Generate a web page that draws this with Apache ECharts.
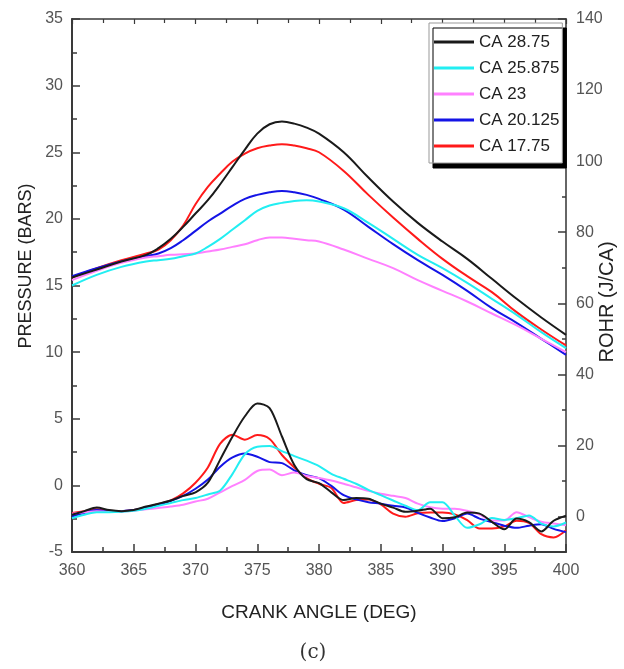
<!DOCTYPE html>
<html>
<head>
<meta charset="utf-8">
<script src="https://cdn.jsdelivr.net/npm/echarts@6/dist/echarts.min.js"></script>
<style>html,body{margin:0;padding:0;background:#fff}#c{width:624px;height:669px}</style>
</head>
<body>
<div id="c"></div>
<script>
// ---- data ----
const seriesNames = ['CA 28.75', 'CA 25.875', 'CA 23', 'CA 20.125', 'CA 17.75'];
const seriesColors = ['#1a1a1a', '#22eef2', '#ff80ff', '#1414e6', '#ff1a1a'];

const pressureAngles = [360,362,364,366,367,368,369,370,371,372,373,374,375,376,377,378,379,380,382,384,386,388,390,392,394,396,398,400];
const pressure_28_75  = [15.6,16.2,16.8,17.3,17.8,18.5,19.4,20.4,21.4,22.6,23.9,25.2,26.4,27.1,27.3,27.15,26.85,26.4,25.0,23.1,21.3,19.7,18.3,17.0,15.5,14.0,12.6,11.3];
const pressure_25_875 = [15.0,15.8,16.4,16.8,16.9,17.0,17.2,17.4,17.9,18.5,19.2,19.9,20.6,21.0,21.2,21.35,21.4,21.3,20.8,19.7,18.5,17.3,16.3,15.2,14.0,12.8,11.5,10.3];
const pressure_23     = [15.4,16.1,16.7,17.1,17.2,17.3,17.35,17.4,17.55,17.7,17.9,18.1,18.4,18.6,18.6,18.5,18.4,18.3,17.7,17.0,16.3,15.4,14.6,13.8,12.9,12.0,11.0,10.0];
const pressure_20_125 = [15.7,16.3,16.8,17.2,17.4,17.8,18.4,19.1,19.8,20.4,21.0,21.5,21.8,22.0,22.1,22.0,21.8,21.5,20.7,19.4,18.1,16.9,15.8,14.6,13.3,12.2,11.0,9.8];
const pressure_17_75  = [15.6,16.3,16.9,17.4,17.7,18.4,19.5,21.1,22.4,23.4,24.3,24.9,25.3,25.5,25.6,25.5,25.3,25.0,23.6,21.8,20.1,18.5,17.0,15.7,14.5,13.0,11.7,10.5];

const rohrAngles = [360,361,362,363,364,365,366,367,368,369,370,371,372,373,374,375,376,377,378,379,380,381,382,383,384,385,386,387,388,389,390,391,392,393,394,395,396,397,398,399,400];
const rohr_28_75  = [0.5,1.5,2.5,1.8,1.5,1.8,2.8,3.6,4.5,5.8,6.8,9.5,16.0,22.5,28.2,31.8,30.5,22.5,14.5,10.5,9.4,6.8,4.6,5.2,5.0,3.6,2.5,1.3,1.6,2.2,-0.5,-0.2,1.1,0.8,-1.5,-3.6,-0.6,-1.6,-4.2,-1.2,0.2];
const rohr_25_875 = [-0.5,0.5,1.2,1.2,1.3,1.6,2.2,3.0,3.8,4.6,5.2,6.2,7.3,12.0,17.5,19.6,19.8,18.4,17.0,15.7,14.2,12.0,10.6,9.2,7.5,6.0,4.5,3.0,1.8,4.0,4.0,0.2,-3.2,-2.2,-0.4,-1.0,-0.5,0.3,-2.0,-2.8,-1.7];
const rohr_23     = [0.8,1.2,1.5,1.3,1.4,1.6,2.0,2.4,2.8,3.3,4.2,5.0,6.8,8.6,10.3,12.8,13.2,11.6,12.4,11.4,10.8,10.1,9.2,8.2,7.2,6.4,5.8,5.2,3.6,2.6,2.2,2.2,1.6,0.5,-1.1,-1.1,1.2,-0.2,-1.5,-2.0,-2.5];
const rohr_20_125 = [0.0,1.0,1.8,1.4,1.5,1.8,2.5,3.3,4.4,5.8,7.8,10.4,14.0,16.6,17.7,16.8,15.3,15.0,13.0,11.6,10.8,8.6,6.0,4.8,4.0,3.6,3.0,2.5,1.0,-0.3,-1.3,-0.5,0.8,-0.6,-1.6,-2.6,-3.2,-2.6,-2.2,-3.5,-4.4];
const rohr_17_75  = [1.0,1.5,2.0,1.6,1.5,1.8,2.6,3.5,4.5,6.5,9.5,13.8,20.5,23.0,21.6,22.9,21.8,17.3,13.8,10.8,9.2,8.0,3.8,4.6,4.8,3.4,0.8,-0.1,0.9,1.1,1.1,0.6,-1.0,-3.4,-3.4,-2.8,-1.2,-1.8,-5.0,-5.9,-3.9];

const pressureSets = [pressure_28_75, pressure_25_875, pressure_23, pressure_20_125, pressure_17_75];
const rohrSets = [rohr_28_75, rohr_25_875, rohr_23, rohr_20_125, rohr_17_75];

const xTicks = [360, 400, 5];
const leftTicks = [-5, 35, 5];
const rightRange = [-10, 140];
const rightLabels = [0, 20, 40, 60, 80, 100, 120, 140];
const rightMinor = [10, 30, 50, 70, 90, 110, 130];

// ---- chart ----
const FONT = '"Liberation Sans", Arial, sans-serif';
const axisCol = '#3a3a3a';
const chart = echarts.init(document.getElementById('c'), null, {renderer: 'canvas'});

const series = [];
seriesNames.forEach((n, i) => {
  series.push({
    name: n, type: 'line', xAxisIndex: 0, yAxisIndex: 0,
    data: pressureAngles.map((a, k) => [a, pressureSets[i][k]]),
    smooth: 0.4, symbol: 'none', lineStyle: {width: 2, color: seriesColors[i]}, itemStyle: {color: seriesColors[i]},
    z: 10 - i
  });
  series.push({
    name: n, type: 'line', xAxisIndex: 0, yAxisIndex: 1,
    data: rohrAngles.map((a, k) => [a, rohrSets[i][k]]),
    smooth: 0.3, symbol: 'none', lineStyle: {width: 2, color: seriesColors[i]}, itemStyle: {color: seriesColors[i]},
    z: 10 - i
  });
});

const labelStyle = {fontFamily: FONT, fontSize: 16, color: '#555'};

chart.setOption({
  animation: false,
  backgroundColor: '#fff',
  grid: {left: 72, right: 58, top: 19, bottom: 117, containLabel: false},
  legend: {
    data: seriesNames, orient: 'vertical', left: 429, top: 23,
    icon: 'rect', itemWidth: 40, itemHeight: 3, itemGap: 4,
    padding: [8, 3, 6, 5],
    backgroundColor: '#fff', borderColor: '#999', borderWidth: 1,
    shadowColor: '#000', shadowBlur: 0, shadowOffsetX: 4, shadowOffsetY: 5,
    textStyle: {fontFamily: FONT, fontSize: 17, lineHeight: 22, color: '#222'}
  },
  xAxis: [
    {type: 'value', min: xTicks[0], max: xTicks[1], interval: xTicks[2], position: 'bottom',
     axisLine: {show: true, onZero: false, lineStyle: {color: axisCol, width: 2}},
     axisTick: {inside: true, length: 8, lineStyle: {color: axisCol, width: 1.5}},
     minorTick: {show: true, splitNumber: 2, length: 5, lineStyle: {color: axisCol, width: 1.5}},
     axisLabel: Object.assign({margin: 11}, labelStyle),
     splitLine: {show: false},
     name: 'CRANK ANGLE (DEG)', nameLocation: 'middle', nameGap: 51,
     nameTextStyle: {fontFamily: FONT, fontSize: 19, color: '#222'}},
    {type: 'value', min: xTicks[0], max: xTicks[1], interval: xTicks[2], position: 'top',
     axisLine: {show: true, onZero: false, lineStyle: {color: axisCol, width: 1.5}},
     axisTick: {inside: true, length: 5, lineStyle: {color: axisCol, width: 1.2}},
     minorTick: {show: true, splitNumber: 2, length: 4, lineStyle: {color: axisCol, width: 1.2}},
     axisLabel: {show: false}, splitLine: {show: false}}
  ],
  yAxis: [
    {type: 'value', min: leftTicks[0], max: leftTicks[1], interval: leftTicks[2], position: 'left',
     axisLine: {show: true, onZero: false, lineStyle: {color: axisCol, width: 2}},
     axisTick: {inside: true, length: 8, lineStyle: {color: axisCol, width: 1.5}},
     minorTick: {show: true, splitNumber: 2, length: 5, lineStyle: {color: axisCol, width: 1.5}},
     axisLabel: Object.assign({margin: 9}, labelStyle),
     splitLine: {show: false}},
    {type: 'value', min: rightRange[0], max: rightRange[1], position: 'right',
     axisLine: {show: true, onZero: false, lineStyle: {color: '#666', width: 2}},
     axisTick: {inside: true, length: 8, customValues: rightLabels, lineStyle: {color: axisCol, width: 1.5}},
     axisLabel: Object.assign({margin: 10, customValues: rightLabels}, labelStyle),
     splitLine: {show: false}},
    {type: 'value', min: rightRange[0], max: rightRange[1], position: 'right',
     axisLine: {show: false},
     axisTick: {inside: true, length: 4, customValues: rightMinor, lineStyle: {color: axisCol, width: 1.5}},
     axisLabel: {show: false}, splitLine: {show: false}}
  ],
  graphic: [
    {type: 'text', x: 26, y: 266, rotation: Math.PI / 2,
     style: {text: 'PRESSURE (BARS)', font: '18px ' + FONT, fill: '#222', textAlign: 'center', textVerticalAlign: 'middle'}},
    {type: 'text', x: 607, y: 302, rotation: Math.PI / 2,
     style: {text: 'ROHR (J/CA)', font: '20px ' + FONT, fill: '#222', textAlign: 'center', textVerticalAlign: 'middle'}},
    {type: 'text', x: 313, y: 653,
     style: {text: '(c)', font: '20px "DejaVu Serif", "Liberation Serif", serif', fill: '#333', textAlign: 'center', textVerticalAlign: 'middle'}}
  ],
  series: series
});
</script>
</body>
</html>
